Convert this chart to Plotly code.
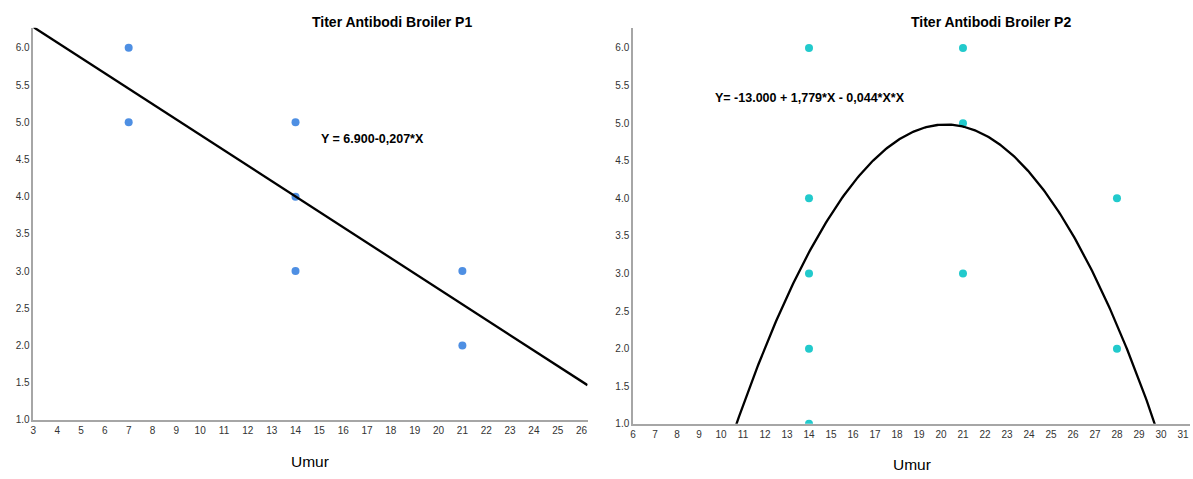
import numpy as np
import plotly.graph_objects as go

# Data
p1_umur = [7, 7, 14, 14, 14, 21, 21]
p1_titer = [6.0, 5.0, 5.0, 4.0, 3.0, 3.0, 2.0]
p2_umur = [14, 14, 14, 14, 14, 21, 21, 21, 28, 28]
p2_titer = [6.0, 4.0, 3.0, 2.0, 1.0, 6.0, 5.0, 3.0, 4.0, 2.0]
p1_coef = [6.900, -0.207]            # Y = a + b*X
p2_coef = [-13.000, 1.779, -0.044]   # Y = a + b*X + c*X*X
p1_xrange = [3, 26.25]
p2_xrange = [6, 31.32]
y_range = [1.0, 6.27]
x1_ticks = list(range(3, 27))
x2_ticks = list(range(6, 32))
y_ticks = [1.0, 1.5, 2.0, 2.5, 3.0, 3.5, 4.0, 4.5, 5.0, 5.5, 6.0]

W, H = 1193, 479
fig = go.Figure()

fig.add_trace(go.Scatter(x=p1_umur, y=p1_titer, mode="markers",
                         marker=dict(color="#4E8FE3", size=8),
                         xaxis="x", yaxis="y", showlegend=False))
lx1 = np.linspace(p1_xrange[0], p1_xrange[1], 50)
fig.add_trace(go.Scatter(x=lx1, y=p1_coef[0] + p1_coef[1] * lx1, mode="lines",
                         line=dict(color="black", width=2.3),
                         xaxis="x", yaxis="y", showlegend=False))

fig.add_trace(go.Scatter(x=p2_umur, y=p2_titer, mode="markers",
                         marker=dict(color="#22CACC", size=8),
                         xaxis="x2", yaxis="y2", showlegend=False))
lx2 = np.linspace(p2_xrange[0], p2_xrange[1], 400)
fig.add_trace(go.Scatter(x=lx2, y=p2_coef[0] + p2_coef[1] * lx2 + p2_coef[2] * lx2 ** 2,
                         mode="lines", line=dict(color="black", width=2.3),
                         xaxis="x2", yaxis="y2", showlegend=False))

FONT = "Liberation Sans, Arial, sans-serif"
tickfont = dict(family=FONT, size=10, color="#333")
axline = dict(showline=True, linecolor="#a6a6a6", linewidth=1.5, showgrid=False,
              zeroline=False, ticks="", tickfont=tickfont)

fig.update_layout(
    width=W, height=H, margin=dict(l=0, r=0, t=0, b=0),
    plot_bgcolor="white", paper_bgcolor="white",
    font=dict(family=FONT, color="black"),
    xaxis=dict(domain=[30.4 / W, 586 / W], range=p1_xrange, tickvals=x1_ticks,
               anchor="y", **axline),
    yaxis=dict(domain=[1 - 424.3 / H, 1 - 28 / H], range=y_range, tickvals=y_ticks,
               tickformat=".1f", anchor="x", **axline),
    xaxis2=dict(domain=[631.6 / W, 1190 / W], range=p2_xrange, tickvals=x2_ticks,
                anchor="y2", **axline),
    yaxis2=dict(domain=[1 - 428.3 / H, 1 - 28 / H], range=y_range, tickvals=y_ticks,
                tickformat=".1f", anchor="x2", **axline),
)


def ann(text, px, py, size, xanchor="center"):
    fig.add_annotation(text=text, x=px / W, y=1 - py / H, xref="paper", yref="paper",
                       xanchor=xanchor, yanchor="middle", showarrow=False,
                       font=dict(family=FONT, size=size, color="black"))


ann("<b>Titer Antibodi Broiler P1</b>", 390, 22, 14)
ann("<b>Titer Antibodi Broiler P2</b>", 990, 22, 14)
ann("Umur", 308, 466, 15.5)
ann("Umur", 911, 469, 15.5)
ann("<b>Y = 6.900-0,207*X</b>", 317, 140, 12.5, xanchor="left")
ann("<b>Y= -13.000 + 1,779*X - 0,044*X*X</b>", 712, 99, 12.5, xanchor="left")

fig.write_html("out.html", config={"displayModeBar": False},
               post_script="document.body.style.margin='0';")
